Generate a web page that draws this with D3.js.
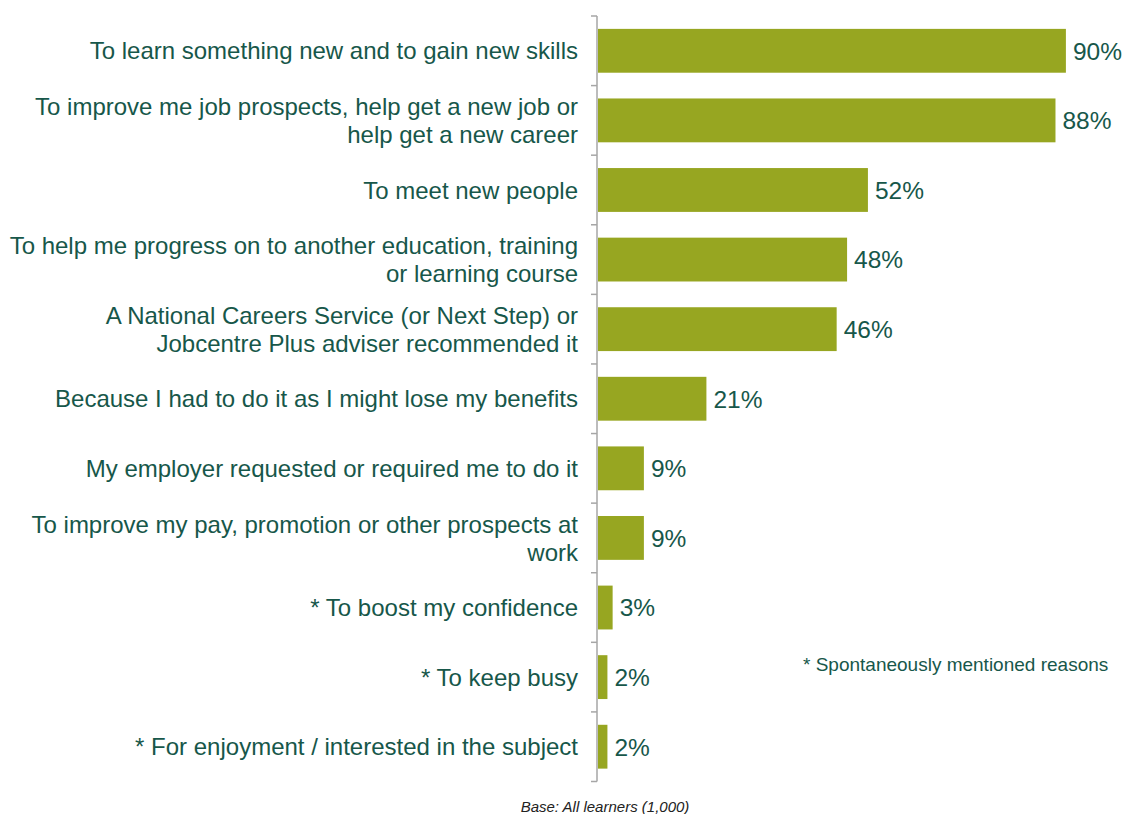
<!DOCTYPE html>
<html>
<head>
<meta charset="utf-8">
<script src="https://cdn.jsdelivr.net/npm/d3@7"></script>
<style>
  html, body { margin: 0; padding: 0; background: #fff; }
  svg { display: block; }
</style>
</head>
<body>
<svg id="chart" width="1125" height="814"></svg>
<script>
// Reasons for taking the course (share of learners)
const categories = [
  ["To learn something new and to gain new skills"],
  ["To improve me job prospects, help get a new job or", "help get a new career"],
  ["To meet new people"],
  ["To help me progress on to another education, training", "or learning course"],
  ["A National Careers Service (or Next Step) or", "Jobcentre Plus adviser recommended it"],
  ["Because I had to do it as I might lose my benefits"],
  ["My employer requested or required me to do it"],
  ["To improve my pay, promotion or other prospects at", "work"],
  ["* To boost my confidence"],
  ["* To keep busy"],
  ["* For enjoyment / interested in the subject"]
];
const values = [90, 88, 52, 48, 46, 21, 9, 9, 3, 2, 2];
const valueLabels = ["90%", "88%", "52%", "48%", "46%", "21%", "9%", "9%", "3%", "2%", "2%"];
const footnote = "* Spontaneously mentioned reasons";
const baseNote = "Base: All learners (1,000)";

const svg = d3.select("#chart");
const textColor = "#17574a";
const barColor = "#97a621";
const axisColor = "#a6a6a6";
const font = "Liberation Sans, Arial, sans-serif";

const axisX = 597, plotTop = 16, plotBottom = 781.5;
const x = d3.scaleLinear().domain([0, 100]).range([axisX, axisX + 521]);
const y = d3.scaleBand().domain(d3.range(categories.length)).range([plotTop, plotBottom]).paddingInner(0.37).paddingOuter(0.185);

// bars
svg.append("g").selectAll("rect")
  .data(values)
  .join("rect")
  .attr("x", x(0) + 1)
  .attr("y", (d, i) => y(i))
  .attr("width", d => x(d) - x(0) - 1)
  .attr("height", y.bandwidth())
  .attr("fill", barColor);

// value labels
svg.append("g").selectAll("text")
  .data(values)
  .join("text")
  .attr("x", d => x(d) + 7)
  .attr("y", (d, i) => y(i) + y.bandwidth() / 2)
  .attr("dy", "0.36em")
  .attr("font-family", font)
  .attr("font-size", 24.5)
  .attr("fill", textColor)
  .text((d, i) => valueLabels[i]);

// category axis: line and tick marks at band boundaries
const axis = svg.append("g");
axis.append("line")
  .attr("x1", axisX).attr("x2", axisX)
  .attr("y1", plotTop).attr("y2", plotBottom)
  .attr("stroke", axisColor).attr("stroke-width", 1.5);
const step = y.step();
const bounds = d3.range(categories.length + 1).map(i => plotTop + i * step);
axis.selectAll("line.tick")
  .data(bounds)
  .join("line")
  .attr("class", "tick")
  .attr("x1", axisX - 6).attr("x2", axisX)
  .attr("y1", d => d).attr("y2", d => d)
  .attr("stroke", axisColor).attr("stroke-width", 1.5);

// category labels
const labels = svg.append("g")
  .attr("font-family", font)
  .attr("font-size", 24)
  .attr("fill", textColor)
  .attr("text-anchor", "end");
categories.forEach((lines, i) => {
  const cy = y(i) + y.bandwidth() / 2;
  const lh = 28;
  const t = labels.append("text")
    .attr("x", 578)
    .attr("y", cy - (lines.length - 1) * lh / 2);
  lines.forEach((l, j) => {
    t.append("tspan").attr("x", 578).attr("dy", j === 0 ? "0.36em" : lh).text(l);
  });
});

// footnote
svg.append("text")
  .attr("x", 803).attr("y", 671)
  .attr("font-family", font)
  .attr("font-size", 19)
  .attr("fill", textColor)
  .text(footnote);

// base
svg.append("text")
  .attr("x", 605).attr("y", 812)
  .attr("text-anchor", "middle")
  .attr("font-family", font)
  .attr("font-size", 15)
  .attr("font-style", "italic")
  .attr("fill", "#222")
  .text(baseNote);
</script>
</body>
</html>
